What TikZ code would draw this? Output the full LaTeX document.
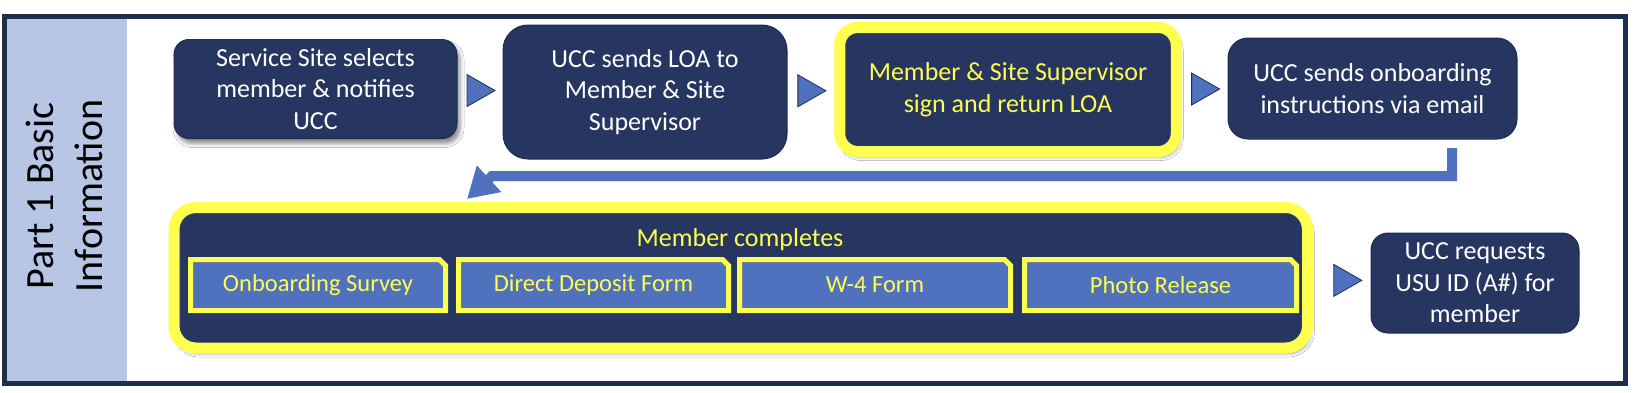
\documentclass[tikz,border=0pt]{standalone}
\usepackage{fontspec}
\setmainfont{Carlito}
\usetikzlibrary{shapes.misc,shadows.blur,arrows.meta,calc}

\definecolor{boxnavy}{RGB}{38,54,97}
\definecolor{framenavy}{RGB}{31,45,78}
\definecolor{bandblue}{RGB}{183,198,228}
\definecolor{flowblue}{RGB}{80,114,190}
\definecolor{hiyellow}{RGB}{255,255,80}

\tikzset{
  stepbox/.style={rounded corners=#1, fill=boxnavy, draw=framenavy, line width=1pt,
    text=white, align=center, inner sep=0pt, font=\fontsize{26}{31.5}\selectfont},
  stepbox/.default=18pt,
  hilite/.style={draw=hiyellow, line width=11pt, text=hiyellow},
  boxshadow/.style={blur shadow={shadow xshift=3pt, shadow yshift=-5pt,
    shadow blur radius=4pt, shadow opacity=45}},
  formtab/.style={chamfered rectangle, chamfered rectangle corners=north east,
    chamfered rectangle xsep=3pt, chamfered rectangle ysep=3pt, fill=flowblue,
    draw=hiyellow, line width=5pt, text=hiyellow, inner sep=0pt, minimum height=51pt,
    font=\fontsize{24.5}{29}\selectfont},
  flowline/.style={draw=flowblue, line width=10pt},
}

% small pointer between two steps
\newcommand{\flowtip}[1]{%
  \filldraw[fill=flowblue, draw=framenavy, line width=0.8pt]
    ($(#1)+(-13,16)$) -- ($(#1)+(15,0)$) -- ($(#1)+(-13,-16)$) -- cycle;}

\begin{document}
\begin{tikzpicture}[x=1pt,y=-1pt]
  \useasboundingbox (0,0) rectangle (1638,392);
  \fill[white] (0,0) rectangle (1638,392);

  % side band and frame
  \fill[bandblue] (7,19) rectangle (127,381);
  \draw[framenavy, line width=5pt] (4.5,16.5) rectangle (1625.5,383);
  \node[rotate=90, align=center, font=\fontsize{40}{49}\selectfont] (part) at (64,196)
    {Part 1 Basic\\Information};

  % top row
  \node[stepbox=15pt, boxshadow, minimum width=283pt, minimum height=99pt] (s1) at (315.5,89)
    {Service Site selects\\member \& notifies\\UCC};
  \node[stepbox=25pt, minimum width=284pt, minimum height=134pt] (s2) at (645,92)
    {UCC sends LOA to\\Member \& Site\\Supervisor};
  \node[stepbox=18pt, hilite, boxshadow, minimum width=336.5pt, minimum height=124pt] (s3) at (1008,89.5)
    {Member \& Site Supervisor\\sign and return LOA};
  \node[stepbox=20pt, minimum width=289pt, minimum height=101pt] (s4) at (1372.5,88.5)
    {UCC sends onboarding\\instructions via email};

  % bottom row
  \node[stepbox=22pt, hilite, boxshadow, minimum width=1133.5pt, minimum height=140.5pt] (forms) at (740.75,277.75) {};
  \node[text=hiyellow, inner sep=0pt, font=\fontsize{26}{31.5}\selectfont] (formshead) at (740,240)
    {Member completes};
  \foreach \cx/\w/\lbl [count=\i] in {318/255/Onboarding Survey, 593.5/270/Direct Deposit Form,
      875/271/W-4 Form, 1160.5/272/Photo Release}
    \node[formtab, minimum width=\w pt] (f\i) at (\cx,285) {\lbl};
  \node[stepbox=17pt, minimum width=208pt, minimum height=100pt] (s5) at (1475,283)
    {UCC requests\\USU ID (A\#) for\\member};

  % pointers
  \coordinate (t1) at ($(s1.east)!0.5!(s2.west)$);
  \coordinate (t2) at ($(s2.east)!0.5!(s3.west)$);
  \coordinate (t3) at ($(s3.east)!0.5!(s4.west)$);
  \coordinate (t4) at ($(forms.east)!0.5!(s5.west)+(5,0)$);
  \foreach \tp in {t1,t2,t3,t4}{
    \flowtip{\tp}
  }

  % return line to the forms
  \coordinate (fbtop) at (1452,148);
  \coordinate (fbbend) at (492,176);
  \coordinate (fbtip) at (467,199);
  \draw[flowline, -{Triangle[length=30pt,width=34pt]}] (fbtop) |- (fbbend) -- (fbtip);
\end{tikzpicture}
\end{document}
